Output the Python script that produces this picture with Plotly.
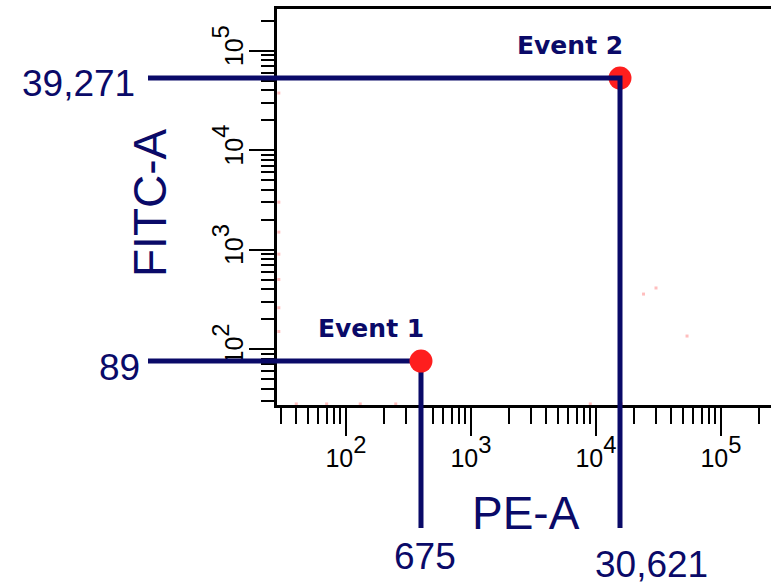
import math
import plotly.graph_objects as go

# ---------------- data ----------------
event_names = ["Event 1", "Event 2"]
pe_labels = ["675", "30,621"]          # PE-A values printed under the plot
fitc_labels = ["89", "39,271"]         # FITC-A values printed left of the plot
event_pe = [398, 15560]                # PE-A position of each event as drawn
event_fitc = [75.7, 53200]             # FITC-A position of each event as drawn

# faint background events visible near the axes
bg_pe = [29, 29, 29, 29, 29, 29, 29, 40, 70, 130, 250, 9000, 16000, 24000, 30200, 53500]
bg_fitc = [37600, 150, 260, 500, 900, 1500, 3000, 28, 28, 28, 28, 28, 28, 357, 411, 135]

major_vals = [1e2, 1e3, 1e4, 1e5]
major_text = ["10<sup>2</sup>", "10<sup>3</sup>", "10<sup>4</sup>", "10<sup>5</sup>"]

# ---------------- geometry / style ----------------
W, H = 771, 582
PLOT_L, PLOT_R, PLOT_T, PLOT_B = 277, 771, 9, 405
X_REF_PX, X_DEC = 346, 125.0     # pixel of 10^2 on x, px per decade
Y_REF_PX, Y_DEC = 349, 99.4      # pixel of 10^2 on y, px per decade
NAVY = "#0a0a68"
RED = "#fe1e1e"


def xlog(px):
    return 2 + (px - X_REF_PX) / X_DEC


def ylog(py):
    return 2 + (Y_REF_PX - py) / Y_DEC


LEAD_LEFT = 10 ** xlog(148)
LEAD_BOTTOM = 10 ** ylog(528)

minor_vals = [k * 10 ** d for d in range(1, 6) for k in range(2, 10)]


def sup_text(t):
    # base drawn smaller than the tick font so that the superscript ends up
    # nearly the same size as the base and raised well above it
    base, rest = t.split("<sup>")
    return f'<span style="font-size:25px">{base}</span><sup>{rest}'


tick_text = [sup_text(t) for t in major_text]

fig = go.Figure()

# background events on the main axes
fig.add_trace(go.Scatter(
    x=bg_pe, y=bg_fitc, mode="markers", xaxis="x", yaxis="y",
    marker=dict(symbol="square", size=3, color="rgba(255,40,40,0.3)", line=dict(width=0)),
    hoverinfo="skip", showlegend=False))


def dot(i):
    fig.add_trace(go.Scatter(
        x=[event_pe[i]], y=[event_fitc[i]], mode="markers", xaxis="x2", yaxis="y2",
        marker=dict(symbol="circle", size=23, color=RED, line=dict(width=0)),
        hoverinfo="skip", showlegend=False))


dot(1)  # Event 2 dot sits under its leader lines
# leader lines on a full-page overlay with the same log scale
for i in range(len(event_names)):
    fig.add_trace(go.Scatter(
        x=[LEAD_LEFT, event_pe[i], event_pe[i]],
        y=[event_fitc[i], event_fitc[i], LEAD_BOTTOM],
        mode="lines", xaxis="x2", yaxis="y2",
        line=dict(color=NAVY, width=5), hoverinfo="skip", showlegend=False))
dot(0)  # Event 1 dot sits above its leader lines

annotations = []
num_font = dict(family="Liberation Sans, Arial", size=37, color=NAVY)
fitc_shift = [(-6, -6), (-11, -5)]
pe_shift = [(4, -6), (31, -14)]
for i in range(len(event_names)):
    annotations.append(dict(
        text=event_names[i], xref="x2", yref="y2",
        x=math.log10(event_pe[i]), y=math.log10(event_fitc[i]),
        xanchor="right", yanchor="bottom", xshift=5, yshift=16, showarrow=False,
        font=dict(family="DejaVu Sans", size=25, color=NAVY, weight="bold")))
    annotations.append(dict(
        text=fitc_labels[i], xref="x2", yref="y2",
        x=math.log10(LEAD_LEFT), y=math.log10(event_fitc[i]),
        xanchor="right", yanchor="middle", xshift=fitc_shift[i][0], yshift=fitc_shift[i][1],
        showarrow=False, font=num_font))
    annotations.append(dict(
        text=pe_labels[i], xref="x2", yref="y2",
        x=math.log10(event_pe[i]), y=math.log10(LEAD_BOTTOM),
        xanchor="center", yanchor="top", xshift=pe_shift[i][0], yshift=pe_shift[i][1],
        showarrow=False, font=num_font))

title_font = dict(family="Liberation Sans, Arial", size=46, color=NAVY)
annotations.append(dict(text="PE-A", xref="paper", yref="paper",
                        x=526 / W, y=1 - 513 / H, xanchor="center", yanchor="middle",
                        showarrow=False, font=title_font))
annotations.append(dict(text="FITC-A", xref="paper", yref="paper",
                        x=150 / W, y=1 - 203 / H, xanchor="center", yanchor="middle",
                        textangle=-90, showarrow=False, font=title_font))

tick_font = dict(family="Liberation Sans, Arial", size=34, color="black")

fig.update_layout(
    width=W, height=H, margin=dict(l=0, r=0, t=0, b=0),
    paper_bgcolor="white", plot_bgcolor="rgba(0,0,0,0)",
    template="none", showlegend=False,
    xaxis=dict(
        type="log", domain=[PLOT_L / W, 1], range=[xlog(PLOT_L), xlog(PLOT_R)],
        anchor="y", showgrid=False, zeroline=False,
        showline=True, linecolor="black", linewidth=3, mirror=True,
        ticks="outside", ticklen=28, tickwidth=2, tickcolor="black",
        tickmode="array", tickvals=major_vals, ticktext=tick_text,
        tickfont=tick_font, ticklabelstandoff=-10,
        minor=dict(tickmode="array", tickvals=minor_vals, ticks="outside",
                   ticklen=16, tickwidth=2, tickcolor="black", showgrid=False)),
    yaxis=dict(
        type="log", domain=[1 - PLOT_B / H, 1 - PLOT_T / H], range=[ylog(PLOT_B), ylog(PLOT_T)],
        anchor="x", showgrid=False, zeroline=False,
        showline=True, linecolor="black", linewidth=3, mirror=False,
        ticks="outside", ticklen=25, tickwidth=2, tickcolor="black",
        tickmode="array", tickvals=major_vals, ticktext=tick_text,
        tickfont=tick_font, tickangle=-90, ticklabelstandoff=-8,
        minor=dict(tickmode="array", tickvals=minor_vals, ticks="outside",
                   ticklen=13, tickwidth=2, tickcolor="black", showgrid=False)),
    xaxis2=dict(type="log", domain=[0, 1], range=[xlog(0), xlog(W)], anchor="y2",
                visible=False, showgrid=False, zeroline=False, fixedrange=True),
    yaxis2=dict(type="log", domain=[0, 1], range=[ylog(H), ylog(0)], anchor="x2",
                visible=False, showgrid=False, zeroline=False, fixedrange=True),
    annotations=annotations,
)

fig.write_html("out.html")
